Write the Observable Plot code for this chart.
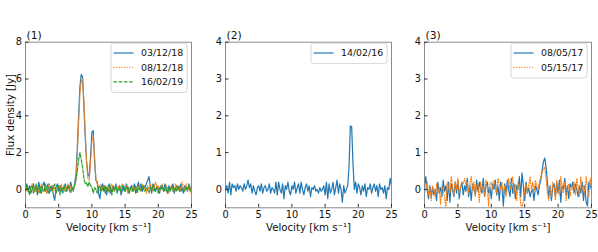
<!DOCTYPE html>
<html><head><meta charset="utf-8">
<script src="https://cdn.jsdelivr.net/npm/d3@7"></script>
<script src="https://cdn.jsdelivr.net/npm/@observablehq/plot@0.6"></script>
<style>
body{margin:0;background:#fff}
#wrap{position:relative;width:598px;height:252px;font-family:"DejaVu Sans",sans-serif}
.p{position:absolute;top:0}
</style>
</head><body><div id="wrap"></div>
<script>
// ---- data (velocity grid 0..25 km/s, step 0.2) ----
const velStep = 0.2;
const nPts = 126;
const xTicks = [0, 5, 10, 15, 20, 25];
const yTicks1 = [0, 2, 4, 6, 8];
const yTicks23 = [0, 1, 2, 3, 4];
const panelLabels = ["(1)", "(2)", "(3)"];
const xLabel = "Velocity [km s\u207B\u00B9]";
const yLabel = "Flux density [Jy]";

const names1 = ["03/12/18", "08/12/18", "16/02/19"];
const s1_031218 = [
 0.1,0.3,-0.1,0.2,-0.2,0.0,0.3,-0.1,0.1,-0.3,
 0.4,0.0,-0.2,0.2,0.4,-0.1,0.1,0.3,-0.2,0.0,
 0.2,-0.3,-0.6,0.1,0.3,-0.1,0.2,0.0,-0.2,0.1,
 0.3,-0.1,0.2,0.0,0.4,0.1,-0.1,0.3,0.8,2.2,
 4.0,5.6,6.25,6.1,4.5,2.8,1.5,0.8,0.7,1.8,
 3.1,3.2,1.6,0.5,0.4,-0.2,-0.5,0.1,0.3,-0.1,
 0.2,-0.3,0.1,0.3,-0.2,0.0,0.2,-0.1,0.3,-0.2,
 0.1,0.2,-0.3,0.0,0.2,-0.1,0.3,0.0,-0.2,0.1,
 0.2,-0.1,0.3,-0.2,0.1,0.4,0.0,0.3,-0.1,0.2,
 0.1,0.3,0.5,0.7,0.2,-0.2,0.3,0.1,-0.1,0.2,
 0.0,-0.2,0.2,0.1,-0.1,0.3,0.0,-0.2,0.2,-0.1,
 0.1,0.3,-0.2,0.0,0.2,0.1,-0.1,0.3,0.0,-0.2,
 0.2,0.1,-0.1,0.3,0.0,0.2];
const s1_081218 = [
 0.2,-0.1,0.0,-0.2,0.1,0.3,-0.2,0.1,-0.1,0.2,
 -0.2,0.1,0.3,0.0,-0.1,0.2,-0.2,0.1,0.3,0.0,
 -0.1,0.2,0.0,-0.2,0.1,0.2,-0.1,0.3,0.0,-0.1,
 0.2,0.0,0.3,-0.1,0.2,0.0,0.1,0.2,0.6,1.8,
 3.6,5.2,5.9,6.0,4.8,3.0,1.5,0.6,0.5,1.4,
 2.6,2.9,1.8,0.6,0.3,0.2,-0.1,0.3,0.0,0.2,
 -0.1,0.1,0.2,-0.2,0.1,0.3,0.0,-0.1,0.2,0.0,
 0.2,-0.1,0.1,0.3,-0.1,0.0,0.2,-0.2,0.1,0.0,
 -0.1,0.2,0.0,0.1,-0.2,0.2,0.1,-0.1,0.3,0.0,
 0.1,-0.2,0.2,0.0,0.3,0.1,-0.1,0.2,0.4,0.0,
 0.2,-0.1,0.1,0.3,0.0,-0.1,0.2,0.1,-0.2,0.0,
 0.2,0.0,-0.1,0.3,0.1,0.0,0.2,-0.1,0.4,0.1,
 0.0,0.3,-0.1,0.2,0.1,-0.3];
const s1_160219 = [
 -0.1,0.2,0.0,-0.3,0.1,0.2,-0.2,0.0,0.3,-0.1,
 0.1,-0.2,0.2,0.0,-0.1,0.3,0.1,-0.2,0.0,0.2,
 -0.1,0.1,0.3,-0.2,0.0,0.2,-0.3,0.1,0.0,0.2,
 -0.1,0.0,0.2,0.1,-0.2,0.1,0.0,0.2,0.5,1.0,
 1.6,2.0,1.6,1.2,0.6,0.3,0.35,0.15,0.4,0.2,
 0.1,-0.2,0.1,0.0,-0.2,0.1,0.2,-0.1,0.0,0.2,
 -0.2,0.1,0.0,-0.1,0.2,-0.3,0.1,0.0,0.2,-0.1,
 0.0,0.1,-0.2,0.2,0.0,-0.1,0.1,0.2,-0.2,0.0,
 0.1,-0.1,0.0,0.2,-0.2,0.1,0.0,-0.1,0.2,0.0,
 -0.1,0.1,0.0,-0.2,0.1,0.0,0.2,-0.1,0.0,0.1,
 -0.2,0.1,0.0,0.2,-0.1,0.0,0.1,-0.2,0.1,0.0,
 0.2,-0.1,0.0,0.1,-0.1,0.2,0.0,-0.1,0.1,0.0,
 -0.1,0.1,0.0,0.2,-0.1,0.0];

const names2 = ["14/02/16"];
const s2_140216 = [
 -0.05,0.1,-0.1,0.2,-0.15,0.15,0.05,0.1,-0.05,0.15,
 0.0,0.1,0.05,-0.05,0.15,0.0,0.1,0.25,0.05,0.15,
 -0.1,0.1,-0.05,-0.15,0.05,0.1,-0.05,0.15,-0.1,0.05,
 0.1,-0.05,0.0,0.15,-0.1,0.05,0.0,-0.1,0.2,-0.15,
 0.2,0.0,-0.1,0.15,-0.25,0.1,0.0,0.2,-0.05,-0.15,
 0.1,0.0,0.2,-0.1,0.05,0.15,-0.1,0.2,0.0,-0.15,
 0.05,0.15,-0.05,0.1,-0.2,0.05,0.0,0.1,-0.05,0.0,
 -0.1,0.05,-0.05,0.0,0.1,-0.15,0.2,-0.25,0.15,-0.1,
 0.0,0.2,-0.15,0.05,0.25,-0.1,0.15,0.0,-0.35,0.1,
 -0.1,0.0,0.1,0.6,1.72,1.7,0.7,0.0,0.2,-0.1,
 0.15,0.05,-0.15,0.1,-0.05,0.15,-0.2,0.05,0.0,0.15,
 -0.1,0.05,0.15,-0.05,0.1,-0.2,0.15,0.0,0.05,-0.1,
 0.1,-0.25,0.05,0.0,0.3,0.1];

const names3 = ["08/05/17", "05/15/17"];
const s3_080517 = [
 0.05,0.35,0.0,-0.25,0.1,-0.2,0.05,-0.15,0.0,-0.3,
 0.2,-0.1,0.05,-0.2,0.25,-0.05,0.1,-0.3,0.2,-0.35,
 0.15,0.0,-0.2,0.2,-0.1,0.25,-0.25,0.05,0.2,-0.15,
 0.1,-0.05,0.3,-0.2,0.1,-0.3,0.15,0.0,-0.15,0.25,
 -0.05,0.2,0.0,-0.1,0.3,-0.2,0.1,0.2,-0.1,0.05,
 -0.25,0.15,0.0,0.25,-0.15,0.1,-0.3,0.2,0.05,-0.45,
 0.15,-0.1,0.25,0.0,-0.2,0.3,-0.1,0.15,-0.25,0.1,
 0.0,0.35,-0.2,0.45,0.1,-0.3,0.2,-0.1,0.05,-0.2,
 -0.05,0.0,-0.3,0.1,0.0,-0.15,0.1,0.25,0.5,0.75,
 0.85,0.6,0.2,-0.2,0.1,-0.3,0.05,0.15,-0.2,0.2,
 -0.1,0.25,-0.35,0.1,0.0,0.3,-0.15,0.1,-0.25,0.15,
 0.05,0.2,-0.1,0.15,0.0,-0.2,0.1,-0.1,0.2,-0.3,
 0.1,-0.35,-0.45,0.2,0.1,0.0];
const s3_051517 = [
 -0.1,0.0,0.2,-0.15,0.05,-0.3,0.1,0.0,-0.2,0.15,
 -0.1,0.05,-0.4,0.1,0.0,-0.2,-0.5,0.2,0.05,-0.1,
 0.35,0.1,-0.15,0.2,0.0,0.3,-0.1,0.05,0.2,0.15,
 0.3,0.1,0.2,-0.1,0.15,0.35,0.0,0.2,-0.2,0.1,
 0.15,-0.35,0.2,0.0,0.1,-0.2,0.25,0.05,-0.45,0.15,
 0.2,0.0,0.25,0.1,-0.1,0.3,0.15,0.0,0.2,-0.1,
 0.1,-0.2,0.05,0.3,0.0,0.1,0.35,-0.1,0.15,-0.3,
 0.2,0.0,-0.4,-0.5,-0.3,0.0,0.15,-0.1,0.1,0.35,
 0.0,0.2,-0.1,0.25,0.1,0.0,0.2,0.35,0.45,0.55,
 0.6,0.3,-0.1,-0.3,0.05,-0.2,0.2,0.1,-0.3,0.25,
 0.0,-0.15,0.35,0.1,-0.1,0.2,-0.3,0.0,0.15,-0.2,
 0.1,0.0,0.2,-0.15,0.3,0.05,-0.2,0.35,0.0,0.1,
 -0.1,0.35,0.0,-0.2,0.3,0.1];

// ---- styles ----
const C = {blue: "#1f77b4", orange: "#ff7f0e", green: "#2ca02c"};
const styleSolid = {stroke: C.blue, dash: null};
const styleDot = {stroke: C.orange, dash: "1,1.6"};
const styleDash = {stroke: C.green, dash: "3.6,1.6"};
const FONT = "DejaVu Sans";
const TICK_FS = 9.8, LABEL_FS = 10.2, LEGEND_FS = 9.4;

function toRows(arr) {
  const n = Math.min(arr.length, nPts);
  return d3.range(n).map(i => ({v: +(i * velStep).toFixed(2), f: arr[i]}));
}

function legendMark(items) {
  return (index, scales, values, dims) => {
    const rowH = 14.4, padTop = 9.8, w = 76;
    const h = 6 + items.length * rowH;
    const x0 = dims.width - dims.marginRight - 4 - w;
    const y0 = dims.marginTop + 1.5;
    const g = d3.create("svg:g").attr("font-family", FONT).attr("font-size", LEGEND_FS)
      .attr("text-anchor", "start");
    g.append("rect").attr("x", x0).attr("y", y0).attr("width", w).attr("height", h)
      .attr("rx", 2.5).attr("fill", "white").attr("fill-opacity", 0.8)
      .attr("stroke", "#cccccc").attr("stroke-width", 0.8);
    items.forEach((it, i) => {
      const y = y0 + padTop + i * rowH;
      g.append("line").attr("x1", x0 + 2.5).attr("x2", x0 + 22.5).attr("y1", y).attr("y2", y)
        .attr("stroke", it.style.stroke).attr("stroke-width", 1.2)
        .attr("stroke-dasharray", it.style.dash);
      g.append("text").attr("x", x0 + 30).attr("y", y).attr("dy", "0.35em")
        .attr("text-anchor", "start").attr("fill", "#111").text(it.name);
    });
    return g.node();
  };
}

function panel({left, width, marginRight, yDomain, yTicks, series, label, showYLabel}) {
  const marks = [];
  series.forEach(s => {
    marks.push(Plot.line(toRows(s.data), {x: "v", y: "f", stroke: s.style.stroke,
      strokeWidth: 1.2, strokeDasharray: s.style.dash, clip: true}));
  });
  marks.push(Plot.frame({stroke: "#808080", strokeWidth: 0.9}));
  marks.push(Plot.axisX({ticks: xTicks, tickSize: -3.5, tickPadding: 6.3, label: null,
    tickFormat: d3.format("d"), stroke: "#333", fill: "#111", fontSize: TICK_FS}));
  marks.push(Plot.axisY({ticks: yTicks, tickSize: -3.5, tickPadding: 7, label: null,
    tickFormat: d3.format("d"), stroke: "#333", fill: "#111", fontSize: TICK_FS}));
  marks.push(Plot.text([label], {frameAnchor: "top-left", textAnchor: "start", lineAnchor: "bottom",
    dx: 1, dy: -3, fontSize: 10.8, fill: "#111"}));
  marks.push(Plot.text([xLabel], {frameAnchor: "bottom", textAnchor: "middle", lineAnchor: "middle", dy: 19.5,
    fontSize: LABEL_FS, fill: "#111"}));
  if (showYLabel) {
    marks.push(Plot.text([yLabel], {frameAnchor: "left", textAnchor: "middle", lineAnchor: "middle",
      rotate: -90, dx: -14.5, dy: -10, fontSize: LABEL_FS, fill: "#111"}));
  }
  marks.push(legendMark(series.map(s => ({name: s.name, style: s.style}))));
  const svg = Plot.plot({
    width, height: 252,
    marginLeft: 25, marginRight, marginTop: 41.7, marginBottom: 44.7,
    x: {domain: [0, 25]},
    y: {domain: yDomain},
    style: {fontFamily: FONT, fontSize: TICK_FS + "px", background: "transparent", color: "#111"},
    marks
  });
  svg.setAttribute("class", "p");
  svg.style.left = left + "px";
  document.getElementById("wrap").appendChild(svg);
}

panel({left: 0, width: 200, marginRight: 9, yDomain: [-1, 8], yTicks: yTicks1, label: panelLabels[0], showYLabel: true,
  series: [
    {name: names1[0], data: s1_031218, style: styleSolid},
    {name: names1[1], data: s1_081218, style: styleDot},
    {name: names1[2], data: s1_160219, style: styleDash}
  ]});
panel({left: 200, width: 200, marginRight: 9, yDomain: [-0.5, 4], yTicks: yTicks23, label: panelLabels[1], showYLabel: false,
  series: [{name: names2[0], data: s2_140216, style: styleSolid}]});
panel({left: 399, width: 199, marginRight: 7, yDomain: [-0.5, 4], yTicks: yTicks23, label: panelLabels[2], showYLabel: false,
  series: [
    {name: names3[0], data: s3_080517, style: styleSolid},
    {name: names3[1], data: s3_051517, style: styleDot}
  ]});
</script>
</body></html>
